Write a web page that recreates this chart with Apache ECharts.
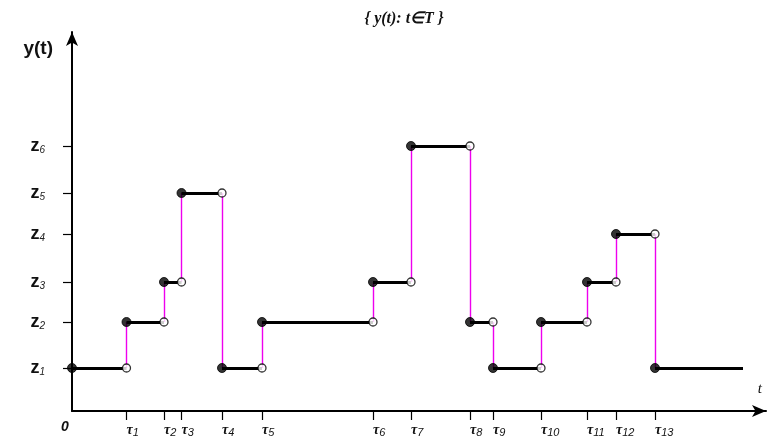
<!DOCTYPE html>
<html>
<head>
<meta charset="utf-8">
<script src="https://cdn.jsdelivr.net/npm/echarts@6/dist/echarts.min.js"></script>
<style>html,body{margin:0;padding:0;background:#fff;}#c{width:777px;height:443px;}</style>
</head>
<body>
<div id="c"></div>
<script>
// Breakpoints τ1..τ13 on the t axis
const tauLabels = ['τ1','τ2','τ3','τ4','τ5','τ6','τ7','τ8','τ9','τ10','τ11','τ12','τ13'];
const tauValues = [5.45, 9.2, 10.95, 15.0, 19.0, 30.1, 33.9, 39.8, 42.1, 46.9, 51.5, 54.4, 58.3];
// Levels z1..z6 on the y axis
const levelLabels = ['z1','z2','z3','z4','z5','z6'];
const levelValues = [4.3, 8.9, 12.9, 17.7, 21.8, 26.5];
// Level index (1-based) of y(t) on each interval [τ(i-1), τi)
const pathLevels = [1, 2, 3, 5, 1, 2, 3, 6, 2, 1, 2, 3, 4, 1];
const tStart = 0;
const tEnd = 67.1;

const horiz = [], verts = [], closedPts = [], openPts = [];
for (let i = 0; i < pathLevels.length; i++) {
  const x0 = i === 0 ? tStart : tauValues[i - 1];
  const x1 = i === pathLevels.length - 1 ? tEnd : tauValues[i];
  const y = levelValues[pathLevels[i] - 1];
  horiz.push({coords: [[x0, y], [x1, y]]});
  closedPts.push([x0, y]);
  if (i < pathLevels.length - 1) openPts.push([x1, y]);
  if (i > 0) {
    const yp = levelValues[pathLevels[i - 1] - 1];
    verts.push({coords: [[x0, yp], [x0, y]]});
  }
}

const chart = echarts.init(document.getElementById('c'));
chart.setOption({
  animation: false,
  backgroundColor: '#fff',
  title: {
    text: '{ y(t): t∈T }',
    left: 399, top: 6, textAlign: 'center',
    textStyle: {fontFamily: 'Liberation Serif', fontStyle: 'italic', fontWeight: 'bold', fontSize: 16, color: '#111'}
  },
  grid: {left: 72, right: 11, top: 32, bottom: 32},
  xAxis: {
    type: 'value', min: 0, max: 69.4,
    name: 't', nameLocation: 'end', nameGap: -4,
    nameTextStyle: {fontFamily: 'Liberation Serif', fontStyle: 'italic', fontSize: 15, color: '#111', align: 'right', verticalAlign: 'bottom', padding: [0, 0, 14, 0]},
    axisLine: {lineStyle: {color: '#000', width: 2}, symbol: ['none', 'arrow'], symbolSize: [9, 14]},
    axisTick: {show: true, length: 9, lineStyle: {color: '#000', width: 1.2}, customValues: tauValues},
    axisLabel: {
      customValues: tauValues, align: 'left', margin: 11, color: '#111',
      formatter: function (v) {
        let k = tauValues.findIndex(t => Math.abs(t - v) < 1e-6);
        if (k < 0) return '';
        const lab = tauLabels[k];
        return '{t|' + lab[0] + '}{s|' + lab.slice(1) + '}';
      },
      rich: {
        t: {fontFamily: 'Liberation Serif', fontStyle: 'italic', fontWeight: 'bold', fontSize: 14, color: '#111'},
        s: {fontFamily: 'Liberation Sans', fontStyle: 'italic', fontSize: 11, color: '#111', padding: [5, 0, 0, 0]}
      }
    },
    splitLine: {show: false}
  },
  yAxis: {
    type: 'value', min: 0, max: 37.9,
    name: 'y(t)', nameLocation: 'end', nameGap: -7,
    nameTextStyle: {fontFamily: 'Liberation Sans', fontWeight: 'bold', fontSize: 19, color: '#111', align: 'right', verticalAlign: 'top', padding: [0, 19, 0, 0]},
    axisLine: {show: true, lineStyle: {color: '#000', width: 2}, symbol: ['none', 'arrow'], symbolSize: [9, 14]},
    axisTick: {show: true, length: 9, lineStyle: {color: '#000', width: 1.2}, customValues: levelValues},
    axisLabel: {
      customValues: levelValues, margin: 27, color: '#111',
      formatter: function (v) {
        let k = levelValues.findIndex(t => Math.abs(t - v) < 1e-6);
        if (k < 0) return '';
        const lab = levelLabels[k];
        return '{z|' + lab[0] + '}{s|' + lab.slice(1) + '}';
      },
      rich: {
        z: {fontFamily: 'Liberation Sans', fontWeight: 'bold', fontSize: 18, color: '#111'},
        s: {fontFamily: 'Liberation Sans', fontStyle: 'italic', fontSize: 10, color: '#222', padding: [8, 0, 0, 0]}
      }
    },
    splitLine: {show: false}
  },
  graphic: [{
    type: 'text', left: 61, top: 420,
    style: {text: '0', fontFamily: 'Liberation Sans', fontStyle: 'italic', fontWeight: 'bold', fontSize: 14, fill: '#111'}
  }],
  series: [
    {type: 'lines', coordinateSystem: 'cartesian2d', z: 2, silent: true,
     lineStyle: {color: '#ee00ee', width: 1.4, opacity: 1}, data: verts},
    {type: 'lines', coordinateSystem: 'cartesian2d', z: 3, silent: true,
     lineStyle: {color: '#000', width: 3, opacity: 1}, data: horiz},
    {type: 'scatter', z: 4, symbol: 'circle', symbolSize: 9, silent: true,
     itemStyle: {color: '#000', borderColor: '#000', borderWidth: 1}, data: closedPts},
    {type: 'scatter', z: 4, symbol: 'circle', symbolSize: 8, silent: true,
     itemStyle: {color: '#fff', borderColor: '#000', borderWidth: 1.3}, data: openPts}
  ]
});
</script>
</body>
</html>
